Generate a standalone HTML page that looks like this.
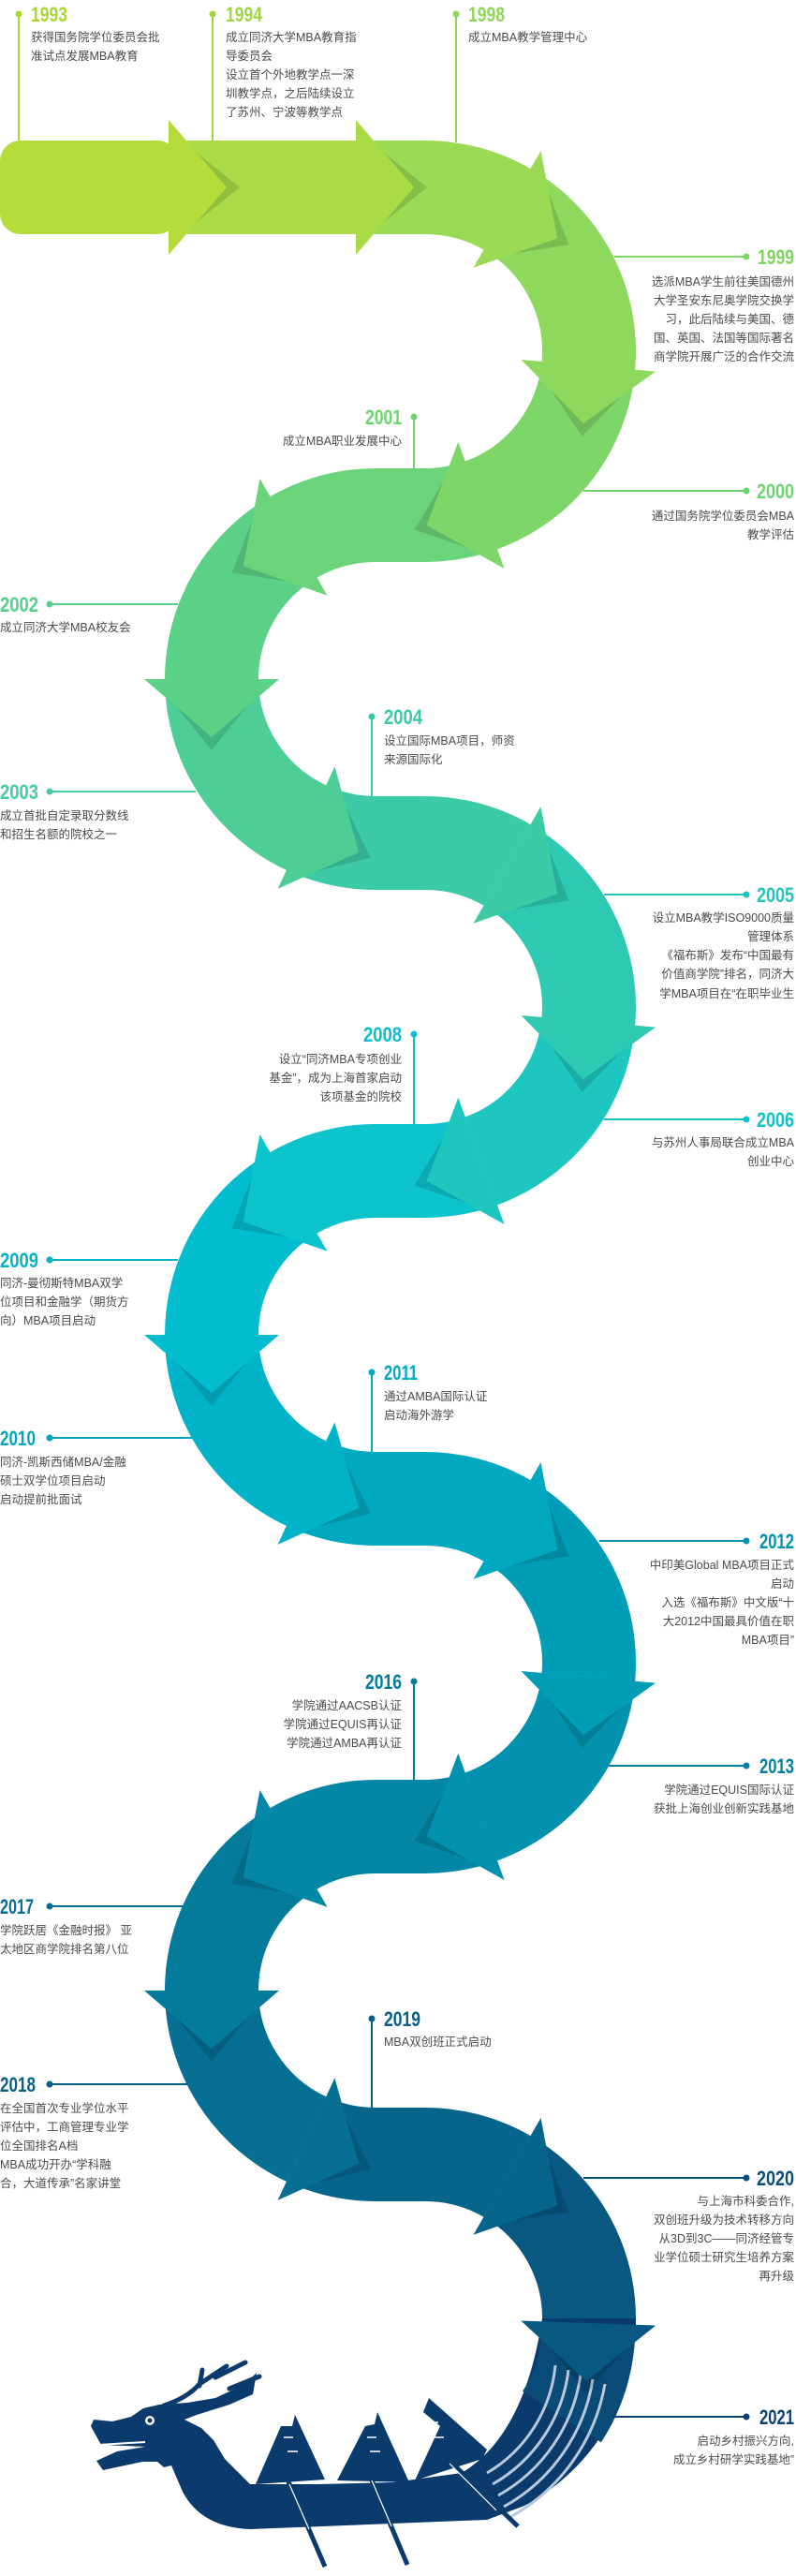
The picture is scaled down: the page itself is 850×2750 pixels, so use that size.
<!DOCTYPE html>
<html><head><meta charset="utf-8"><style>
html,body{margin:0;padding:0;background:#fff}
svg{display:block}
.t{font-family:"Liberation Sans","Noto Sans CJK SC",sans-serif;font-size:12.5px;fill:#4a4a4a}
.y{font-family:"Liberation Sans Narrow","Liberation Sans",sans-serif;font-weight:bold;font-size:22px}
</style></head><body>
<svg width="850" height="2750" viewBox="0 0 850 2750" xmlns="http://www.w3.org/2000/svg">
<defs>
<g id="ar"><polygon points="14,-50 76,0 14,50" fill="#000" opacity="0.13"/></g>
</defs>
<g fill="none" stroke-width="100">
<rect x="0" y="150" width="190" height="100" rx="22" fill="#b5dc3b" stroke="none"/>
<path d="M180 200H380" stroke="#a9db47"/>
<path d="M380 200H454A175 175 0 0 1 541.5 223.4" stroke="#9bda54"/>
<path d="M541.5 223.4A175 175 0 0 1 628.3 390.3" stroke="#8ed85d"/>
<path d="M628.3 390.3A175 175 0 0 1 513.9 539.4" stroke="#7fd668"/>
<path d="M513.9 539.4A175 175 0 0 1 454 550H401A175 175 0 0 0 313.5 573.4" stroke="#6bd47a"/>
<path d="M313.5 573.4A175 175 0 0 0 226 725" stroke="#5bd188"/>
<path d="M226 725A175 175 0 0 0 327 883.6" stroke="#4dce96"/>
<path d="M327 883.6A175 175 0 0 0 401 900H454A175 175 0 0 1 541.5 923.4" stroke="#3dcba5"/>
<path d="M541.5 923.4A175 175 0 0 1 628.3 1090.3" stroke="#2ec9b2"/>
<path d="M628.3 1090.3A175 175 0 0 1 513.9 1239.4" stroke="#1ec6c0"/>
<path d="M513.9 1239.4A175 175 0 0 1 454 1250H401A175 175 0 0 0 313.5 1273.4" stroke="#0dc3cc"/>
<path d="M313.5 1273.4A175 175 0 0 0 226 1425" stroke="#02bdd0"/>
<path d="M226 1425A175 175 0 0 0 327 1583.6" stroke="#00b3c8"/>
<path d="M327 1583.6A175 175 0 0 0 401 1600H454A175 175 0 0 1 541.5 1623.4" stroke="#00a9c0"/>
<path d="M541.5 1623.4A175 175 0 0 1 628.3 1790.3" stroke="#009db6"/>
<path d="M628.3 1790.3A175 175 0 0 1 513.9 1939.4" stroke="#0292ad"/>
<path d="M513.9 1939.4A175 175 0 0 1 454 1950H401A175 175 0 0 0 313.5 1973.4" stroke="#0487a5"/>
<path d="M313.5 1973.4A175 175 0 0 0 226 2125" stroke="#057b9c"/>
<path d="M226 2125A175 175 0 0 0 327 2283.6" stroke="#066f93"/>
<path d="M327 2283.6A175 175 0 0 0 401 2300H454A175 175 0 0 1 541.5 2323.4" stroke="#07648b"/>
<path d="M541.5 2323.4A175 175 0 0 1 628.3 2490.3" stroke="#085882"/>
</g>
<!-- tail + dragon -->
<path fill="#0b3a6c" d="M679 2475A225 225 0 0 1 560 2675L520 2690L267 2700Q215 2698 195 2660L183 2632L175 2634L168 2628L152 2628L110 2637L103 2627L125 2617L155 2612L108 2610L97 2590L100 2583L120 2585L140 2580L153 2571L170 2567L200 2565L230 2560L262 2545L274 2533L270 2556L245 2567L210 2578L197 2583L215 2592L228 2605L240 2625L267 2652L340 2652L420 2650L493 2640Q560 2600 579 2475Z"/>
<path d="M628.3 2490.3A175 175 0 0 1 600 2580" stroke="#0a4a77" stroke-width="100" fill="none"/>
<g fill="none" stroke="#b8c8dc" stroke-width="3">
<path d="M593 2525A150 150 0 0 1 520 2640"/>
<path d="M607 2530A163 163 0 0 1 526 2652"/>
<path d="M620 2535A176 176 0 0 1 532 2664"/>
<path d="M633 2540A189 189 0 0 1 538 2676"/>
<path d="M646 2545A202 202 0 0 1 545 2687"/>
</g>
<!-- antlers -->
<g stroke="#0b3a6c" stroke-width="5" fill="none" stroke-linecap="round">
<path d="M175 2568Q200 2560 213 2545L242 2526"/>
<path d="M213 2547L216 2530"/>
<path d="M230 2538L262 2522"/>
<path d="M245 2550L277 2537"/>
</g>
<circle cx="160" cy="2584" r="5" fill="#fff"/><circle cx="160" cy="2584" r="2.5" fill="#0b3a6c"/>
<path d="M105 2610L155 2607" stroke="#fff" stroke-width="2"/>
<!-- flags -->
<g fill="#0b3a6c">
<polygon points="315,2578 347,2647 273,2652 300,2590 312,2590"/>
<polygon points="403,2575 437,2650 360,2648 390,2590 400,2588"/>
<polygon points="458,2560 520,2615 515,2625 443,2648 470,2590 452,2575"/>
</g>
<g stroke="#fff" stroke-width="1.5" fill="none">
<path d="M303 2602H313M307 2617H318"/>
<path d="M392 2602H402M395 2617H406"/>
<path d="M460 2586H468M464 2602H474"/>
</g>
<g stroke="#0b3a6c" stroke-width="5"><path d="M307 2647L347 2740M395 2643L435 2738M478 2625L553 2697"/></g>
<g stroke="#fff" stroke-width="1.2"><path d="M309 2652L330 2700M397 2648L418 2697M480 2630L530 2680"/></g>
<!-- arrows -->
<g>
<g transform="translate(180 200)"><use href="#ar"/><polygon points="0,-72 62,0 0,72" fill="#b5dc3b"/></g>
<g transform="translate(380 200)"><use href="#ar"/><polygon points="0,-72 62,0 0,72" fill="#a9db47"/></g>
<g transform="translate(541.5 223.4) rotate(30)"><use href="#ar"/><polygon points="0,-72 62,0 0,72" fill="#9bda54"/></g>
<g transform="translate(628.3 390.3) rotate(95)"><use href="#ar"/><polygon points="0,-72 62,0 0,72" fill="#8ed85d"/></g>
<g transform="translate(513.9 539.4) rotate(160)"><use href="#ar"/><polygon points="0,-72 62,0 0,72" fill="#7fd668"/></g>
<g transform="translate(313.5 573.4) rotate(150)"><use href="#ar"/><polygon points="0,-72 62,0 0,72" fill="#6bd47a"/></g>
<g transform="translate(226 725) rotate(90)"><use href="#ar"/><polygon points="0,-72 62,0 0,72" fill="#5bd188"/></g>
<g transform="translate(327 883.6) rotate(25)"><use href="#ar"/><polygon points="0,-72 62,0 0,72" fill="#4dce96"/></g>
<g transform="translate(541.5 923.4) rotate(30)"><use href="#ar"/><polygon points="0,-72 62,0 0,72" fill="#3dcba5"/></g>
<g transform="translate(628.3 1090.3) rotate(95)"><use href="#ar"/><polygon points="0,-72 62,0 0,72" fill="#2ec9b2"/></g>
<g transform="translate(513.9 1239.4) rotate(160)"><use href="#ar"/><polygon points="0,-72 62,0 0,72" fill="#1ec6c0"/></g>
<g transform="translate(313.5 1273.4) rotate(150)"><use href="#ar"/><polygon points="0,-72 62,0 0,72" fill="#0dc3cc"/></g>
<g transform="translate(226 1425) rotate(90)"><use href="#ar"/><polygon points="0,-72 62,0 0,72" fill="#02bdd0"/></g>
<g transform="translate(327 1583.6) rotate(25)"><use href="#ar"/><polygon points="0,-72 62,0 0,72" fill="#00b3c8"/></g>
<g transform="translate(541.5 1623.4) rotate(30)"><use href="#ar"/><polygon points="0,-72 62,0 0,72" fill="#00a9c0"/></g>
<g transform="translate(628.3 1790.3) rotate(95)"><use href="#ar"/><polygon points="0,-72 62,0 0,72" fill="#009db6"/></g>
<g transform="translate(513.9 1939.4) rotate(160)"><use href="#ar"/><polygon points="0,-72 62,0 0,72" fill="#0292ad"/></g>
<g transform="translate(313.5 1973.4) rotate(150)"><use href="#ar"/><polygon points="0,-72 62,0 0,72" fill="#0487a5"/></g>
<g transform="translate(226 2125) rotate(90)"><use href="#ar"/><polygon points="0,-72 62,0 0,72" fill="#057b9c"/></g>
<g transform="translate(327 2283.6) rotate(25)"><use href="#ar"/><polygon points="0,-72 62,0 0,72" fill="#066f93"/></g>
<g transform="translate(541.5 2323.4) rotate(30)"><use href="#ar"/><polygon points="0,-72 62,0 0,72" fill="#07648b"/></g>
<g transform="translate(628.3 2480) rotate(92)"><use href="#ar"/><polygon points="0,-72 62,0 0,72" fill="#085882"/></g>
</g>
<!-- connectors -->
<g stroke-width="2" fill="none">
<path d="M20 15V150" stroke="#a8d82e"/><path d="M227 15V150" stroke="#9dd840"/><path d="M487 15V152" stroke="#8fd65a"/>
<path d="M656 274H797" stroke="#7ed65f"/><path d="M623 524H797" stroke="#6dd46f"/><path d="M442 445V500" stroke="#6dd46f"/>
<path d="M53 645H190" stroke="#55cf8c"/><path d="M53 845H209" stroke="#45cd9c"/><path d="M397 765V850" stroke="#35caa8"/>
<path d="M645 955H797" stroke="#22c5bc"/><path d="M442 1104V1200" stroke="#08bfd0"/><path d="M645 1195H797" stroke="#0cc4cc"/>
<path d="M53 1345H190" stroke="#00b3c8"/><path d="M397 1465V1550" stroke="#00a8c0"/><path d="M53 1535H205" stroke="#00a5c2"/>
<path d="M640 1645H797" stroke="#0093ad"/><path d="M442 1795V1900" stroke="#017c9c"/><path d="M650 1885H797" stroke="#03809f"/>
<path d="M53 2035H195" stroke="#056e94"/><path d="M397 2155V2250" stroke="#075f86"/><path d="M53 2225H200" stroke="#085f88"/>
<path d="M623 2325H797" stroke="#0a4e7a"/><path d="M654 2580H797" stroke="#0d3f70"/>
</g>
<g>
<circle cx="20" cy="15" r="3.5" fill="#a8d82e"/><circle cx="227" cy="15" r="3.5" fill="#9dd840"/><circle cx="487" cy="15" r="3.5" fill="#8fd65a"/>
<circle cx="797" cy="274" r="3.5" fill="#7ed65f"/><circle cx="797" cy="524" r="3.5" fill="#6dd46f"/><circle cx="442" cy="445" r="3.5" fill="#6dd46f"/>
<circle cx="53" cy="645" r="3.5" fill="#55cf8c"/><circle cx="53" cy="845" r="3.5" fill="#45cd9c"/><circle cx="397" cy="765" r="3.5" fill="#35caa8"/>
<circle cx="797" cy="955" r="3.5" fill="#22c5bc"/><circle cx="442" cy="1104" r="3.5" fill="#08bfd0"/><circle cx="797" cy="1195" r="3.5" fill="#0cc4cc"/>
<circle cx="53" cy="1345" r="3.5" fill="#00b3c8"/><circle cx="397" cy="1465" r="3.5" fill="#00a8c0"/><circle cx="53" cy="1535" r="3.5" fill="#00a5c2"/>
<circle cx="797" cy="1645" r="3.5" fill="#0093ad"/><circle cx="442" cy="1795" r="3.5" fill="#017c9c"/><circle cx="797" cy="1885" r="3.5" fill="#03809f"/>
<circle cx="53" cy="2035" r="3.5" fill="#056e94"/><circle cx="397" cy="2155" r="3.5" fill="#075f86"/><circle cx="53" cy="2225" r="3.5" fill="#085f88"/>
<circle cx="797" cy="2325" r="3.5" fill="#0a4e7a"/><circle cx="797" cy="2580" r="3.5" fill="#0d3f70"/>
</g>
<!-- years -->
<g class="y">
<text x="33" y="23" fill="#a8d82e" textLength="39" lengthAdjust="spacingAndGlyphs">1993</text>
<text x="241" y="23" fill="#9dd840" textLength="39" lengthAdjust="spacingAndGlyphs">1994</text>
<text x="500" y="23" fill="#8fd65a" textLength="39" lengthAdjust="spacingAndGlyphs">1998</text>
<text x="809" y="282" fill="#7ed65f" textLength="39" lengthAdjust="spacingAndGlyphs">1999</text>
<text x="808" y="532" fill="#6dd46f" textLength="40" lengthAdjust="spacingAndGlyphs">2000</text>
<text x="390" y="453" fill="#6dd46f" textLength="39" lengthAdjust="spacingAndGlyphs">2001</text>
<text x="0" y="653" fill="#55cf8c" textLength="41" lengthAdjust="spacingAndGlyphs">2002</text>
<text x="0" y="853" fill="#45cd9c" textLength="41" lengthAdjust="spacingAndGlyphs">2003</text>
<text x="410" y="773" fill="#35caa8" textLength="41" lengthAdjust="spacingAndGlyphs">2004</text>
<text x="808" y="963" fill="#22c5bc" textLength="40" lengthAdjust="spacingAndGlyphs">2005</text>
<text x="388" y="1112" fill="#08bfd0" textLength="41" lengthAdjust="spacingAndGlyphs">2008</text>
<text x="808" y="1203" fill="#0cc4cc" textLength="40" lengthAdjust="spacingAndGlyphs">2006</text>
<text x="0" y="1353" fill="#00b3c8" textLength="41" lengthAdjust="spacingAndGlyphs">2009</text>
<text x="410" y="1473" fill="#00a8c0" textLength="36" lengthAdjust="spacingAndGlyphs">2011</text>
<text x="0" y="1543" fill="#00a5c2" textLength="38" lengthAdjust="spacingAndGlyphs">2010</text>
<text x="811" y="1653" fill="#0093ad" textLength="37" lengthAdjust="spacingAndGlyphs">2012</text>
<text x="390" y="1803" fill="#017c9c" textLength="39" lengthAdjust="spacingAndGlyphs">2016</text>
<text x="811" y="1893" fill="#03809f" textLength="37" lengthAdjust="spacingAndGlyphs">2013</text>
<text x="0" y="2043" fill="#056e94" textLength="36" lengthAdjust="spacingAndGlyphs">2017</text>
<text x="410" y="2163" fill="#075f86" textLength="39" lengthAdjust="spacingAndGlyphs">2019</text>
<text x="0" y="2233" fill="#085f88" textLength="38" lengthAdjust="spacingAndGlyphs">2018</text>
<text x="808" y="2333" fill="#0a4e7a" textLength="40" lengthAdjust="spacingAndGlyphs">2020</text>
<text x="811" y="2588" fill="#0d3f70" textLength="37" lengthAdjust="spacingAndGlyphs">2021</text>
</g>
<!-- body text -->
<g class="t">
<text x="33" y="44">获得国务院学位委员会批</text><text x="33" y="64">准试点发展MBA教育</text>
<text x="241" y="44">成立同济大学MBA教育指</text><text x="241" y="64">导委员会</text><text x="241" y="84">设立首个外地教学点一深</text><text x="241" y="104">圳教学点，之后陆续设立</text><text x="241" y="124">了苏州、宁波等教学点</text>
<text x="500" y="44">成立MBA教学管理中心</text>
<text x="410" y="795">设立国际MBA项目，师资</text><text x="410" y="815">来源国际化</text>
<text x="410" y="1495">通过AMBA国际认证</text><text x="410" y="1515">启动海外游学</text>
<text x="410" y="2184">MBA双创班正式启动</text>
<text x="0" y="674">成立同济大学MBA校友会</text>
<text x="0" y="875">成立首批自定录取分数线</text><text x="0" y="895">和招生名额的院校之一</text>
<text x="0" y="1374">同济-曼彻斯特MBA双学</text><text x="0" y="1394">位项目和金融学（期货方</text><text x="0" y="1414">向）MBA项目启动</text>
<text x="0" y="1565">同济-凯斯西储MBA/金融</text><text x="0" y="1585">硕士双学位项目启动</text><text x="0" y="1605">启动提前批面试</text>
<text x="0" y="2065">学院跃居《金融时报》 亚</text><text x="0" y="2085">太地区商学院排名第八位</text>
<text x="0" y="2255">在全国首次专业学位水平</text><text x="0" y="2275">评估中，工商管理专业学</text><text x="0" y="2295">位全国排名A档</text><text x="0" y="2315">MBA成功开办“学科融</text><text x="0" y="2335">合，大道传承”名家讲堂</text>
</g>
<g class="t" text-anchor="end">
<text x="429" y="475">成立MBA职业发展中心</text>
<text x="429" y="1135">设立“同济MBA专项创业</text><text x="429" y="1155">基金”，成为上海首家启动</text><text x="429" y="1175">该项基金的院校</text>
<text x="429" y="1825">学院通过AACSB认证</text><text x="429" y="1845">学院通过EQUIS再认证</text><text x="429" y="1865">学院通过AMBA再认证</text>
<text x="848" y="305">选派MBA学生前往美国德州</text><text x="848" y="325">大学圣安东尼奥学院交换学</text><text x="848" y="345">习，此后陆续与美国、德</text><text x="848" y="365">国、英国、法国等国际著名</text><text x="848" y="385">商学院开展广泛的合作交流</text>
<text x="848" y="555">通过国务院学位委员会MBA</text><text x="848" y="575">教学评估</text>
<text x="848" y="984">设立MBA教学ISO9000质量</text><text x="848" y="1004">管理体系</text><text x="848" y="1024">《福布斯》发布“中国最有</text><text x="848" y="1044">价值商学院”排名，同济大</text><text x="848" y="1065">学MBA项目在“在职毕业生</text>
<text x="848" y="1224">与苏州人事局联合成立MBA</text><text x="848" y="1244">创业中心</text>
<text x="848" y="1675">中印美Global MBA项目正式</text><text x="848" y="1695">启动</text><text x="848" y="1715">入选《福布斯》中文版“十</text><text x="848" y="1735">大2012中国最具价值在职</text><text x="848" y="1755">MBA项目”</text>
<text x="848" y="1915">学院通过EQUIS国际认证</text><text x="848" y="1935">获批上海创业创新实践基地</text>
<text x="848" y="2354">与上海市科委合作,</text><text x="848" y="2374">双创班升级为技术转移方向</text><text x="848" y="2394">从3D到3C——同济经管专</text><text x="848" y="2414">业学位硕士研究生培养方案</text><text x="848" y="2434">再升级</text>
<text x="848" y="2610">启动乡村振兴方向,</text><text x="848" y="2630">成立乡村研学实践基地”</text>
</g>
</svg>
</body></html>
